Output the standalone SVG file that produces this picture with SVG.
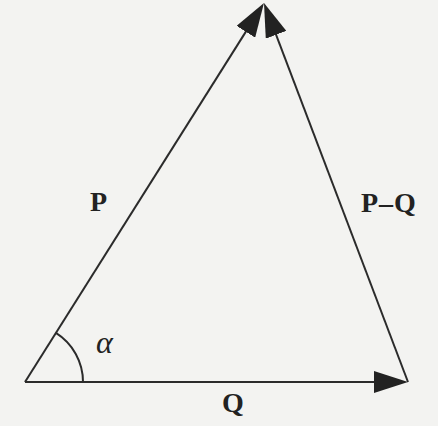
<svg xmlns="http://www.w3.org/2000/svg" width="438" height="426" viewBox="0 0 438 426">
  <style>
    .edge { stroke: #2b2b2b; stroke-width: 2; fill: none; }
    .lbl { font-family: "Liberation Serif", "Times New Roman", serif; font-weight: bold; font-size: 28px; fill: #222; }
    .greek { font-family: "Liberation Serif", "Times New Roman", serif; font-style: italic; font-size: 32px; fill: #222; }
  </style>
  <defs>
    <marker id="arrow" viewBox="0 0 34 22" refX="14" refY="11" markerWidth="34" markerHeight="22" markerUnits="userSpaceOnUse" orient="auto">
      <path d="M0,0 L34,11 L0,22 Z" fill="#222"/>
    </marker>
  </defs>
  <rect width="438" height="426" fill="#f3f3f1"/>
  <g id="connectors">
    <line id="P" class="edge" x1="25" y1="382" x2="253.3" y2="19.9" marker-end="url(#arrow)"/>
    <line id="PQ" class="edge" x1="408" y1="382" x2="271.1" y2="21.7" marker-end="url(#arrow)"/>
    <line id="Q" class="edge" x1="25" y1="382" x2="388" y2="382" marker-end="url(#arrow)"/>
    <path id="angle" class="edge" d="M83,382 A58,58 0 0 0 55.9,332.9"/>
  </g>
  <g id="label-P"><text class="lbl" x="90" y="211">P</text></g>
  <g id="label-PQ"><text class="lbl" x="361" y="212" letter-spacing="1">P–Q</text></g>
  <g id="label-Q"><text class="lbl" x="222" y="412">Q</text></g>
  <g id="label-alpha"><text class="greek" x="96" y="353">α</text></g>
</svg>
